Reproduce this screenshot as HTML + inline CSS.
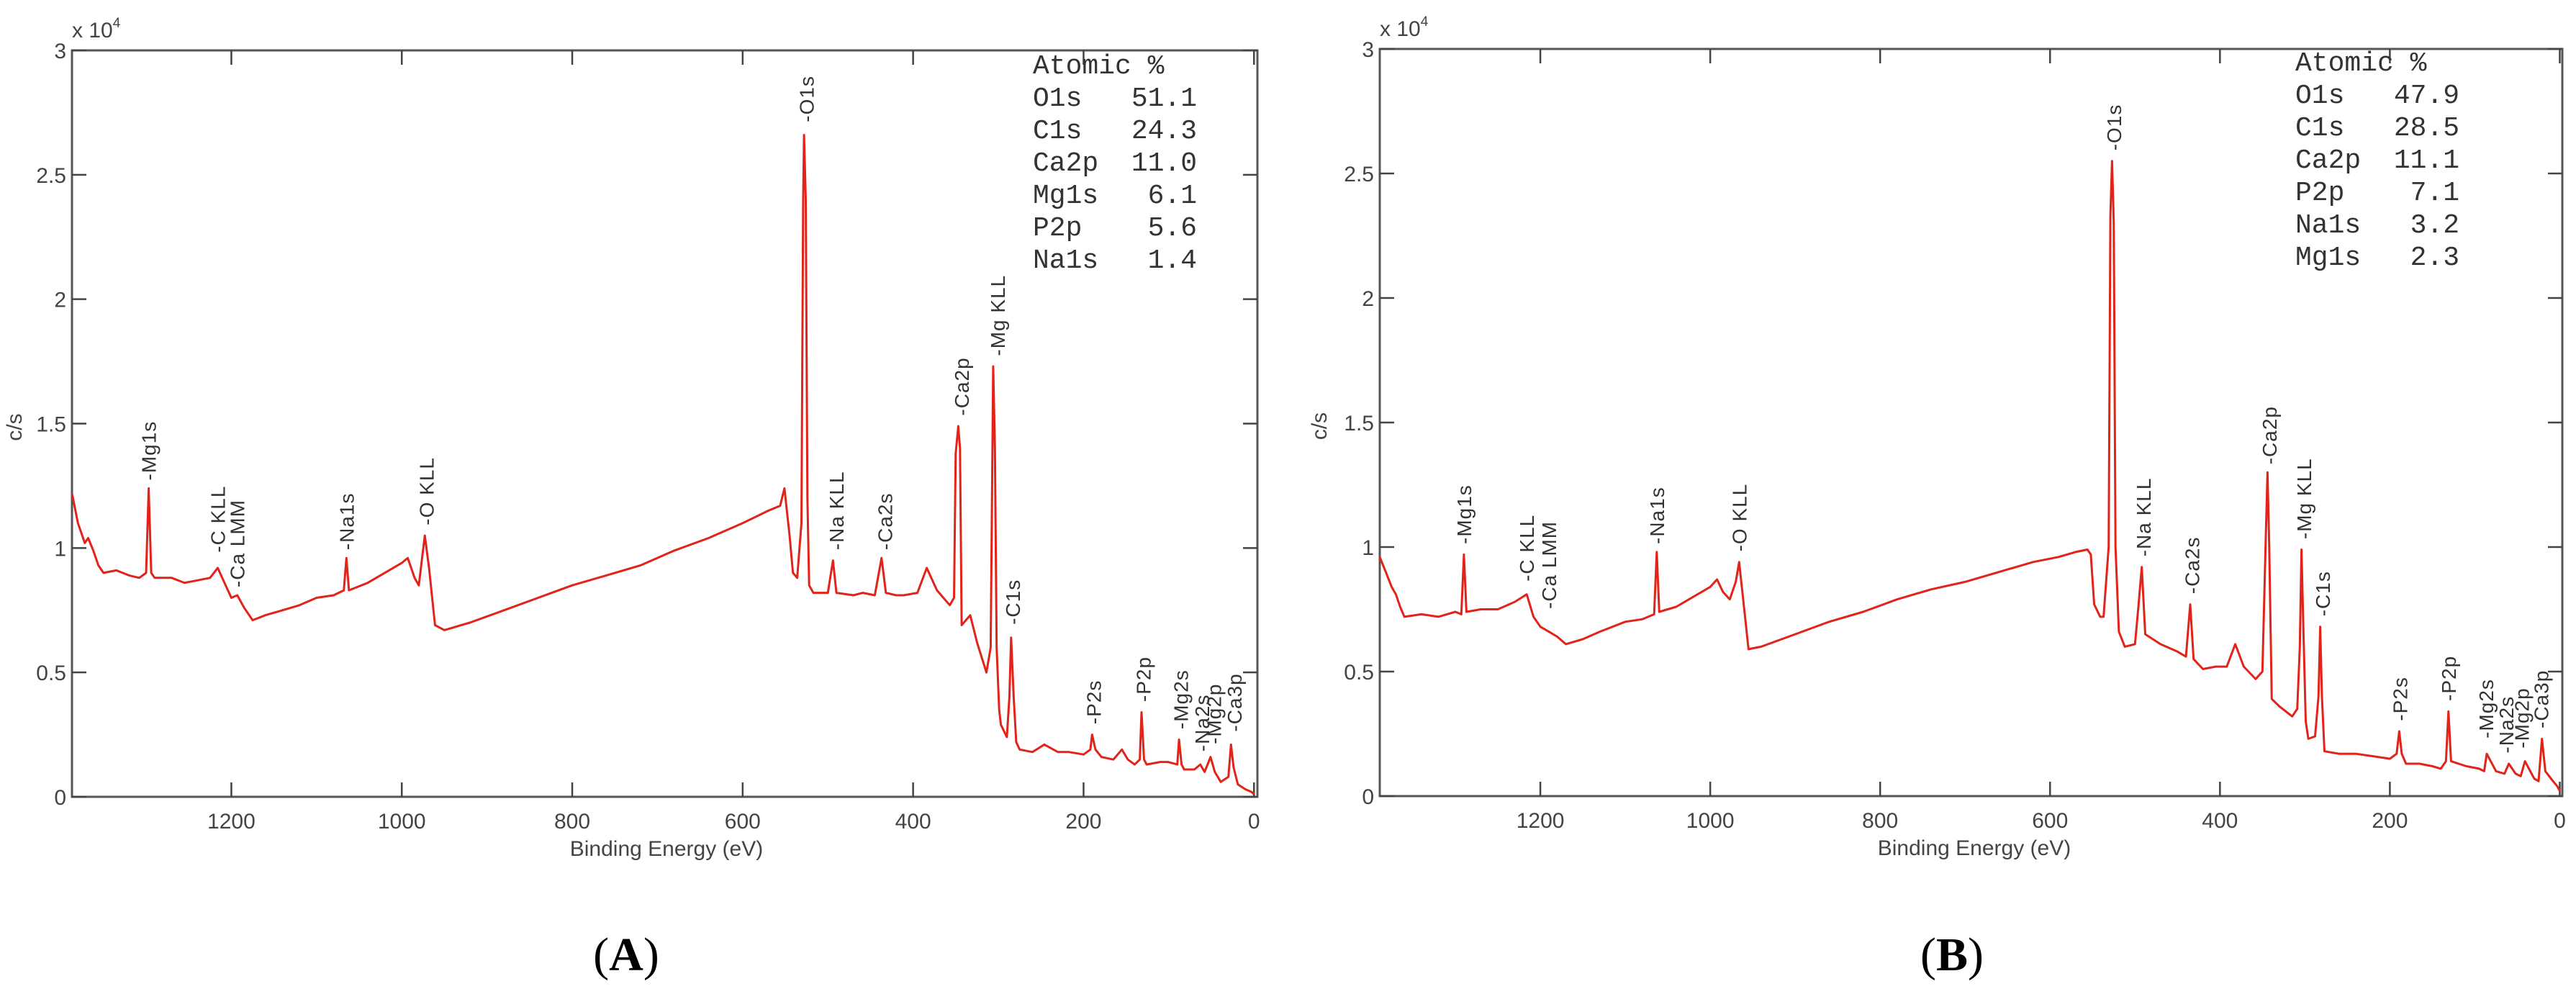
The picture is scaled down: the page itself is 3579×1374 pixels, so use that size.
<!DOCTYPE html>
<html><head><meta charset="utf-8">
<style>
html,body{margin:0;padding:0;background:#fff;}
svg{display:block;font-family:"Liberation Sans",sans-serif;}
.tick{font-size:30px;fill:#444;}
.leg{font-family:"Liberation Mono",monospace;font-size:38px;fill:#333;white-space:pre;}
.pk{font-size:28px;fill:#333;letter-spacing:1px;}
.cap{font-family:"Liberation Serif",serif;font-size:66px;fill:#000;}
</style></head>
<body>
<svg id="fig" width="3579" height="1374" viewBox="0 0 3579 1374" xmlns="http://www.w3.org/2000/svg">
<text class="cap" x="870" y="1348" text-anchor="middle">(<tspan font-weight="bold">A</tspan>)</text>
<text class="cap" x="2712" y="1348" text-anchor="middle">(<tspan font-weight="bold">B</tspan>)</text>
</svg>
<script>
// ---- Panel A data (binding energy eV, counts x1e4) ----
const beA = [1387,1380,1372,1368,1362,1356,1350,1335,1320,1308,1300,1297,1294,1290,1270,1255,1240,1225,1216,1208,1200,1193,1185,1175,1160,1140,1120,1100,1080,1068,1065,1062,1040,1020,1000,993,985,980,973,968,961,950,920,880,840,800,760,720,680,640,600,570,556,551,545,541,536,531,529,528,526,524,522,517,500,494,490,470,459,445,437,432,420,411,395,384,372,357,352,350,347,345,343,333,325,314,309,306,304,302,299,297,290,287,285,282,279,275,260,246,230,217,200,192,190,186,179,165,155,148,140,134,132,129,126,110,101,90,88,85,82,70,63,58,51,46,39,30,27,24,19,10,3,0];
const ctA = [1.22,1.10,1.02,1.04,0.99,0.93,0.90,0.91,0.89,0.88,0.90,1.24,0.90,0.88,0.88,0.86,0.87,0.88,0.92,0.86,0.80,0.81,0.76,0.71,0.73,0.75,0.77,0.80,0.81,0.83,0.96,0.83,0.86,0.90,0.94,0.96,0.88,0.85,1.05,0.92,0.69,0.67,0.70,0.75,0.80,0.85,0.89,0.93,0.99,1.04,1.10,1.15,1.17,1.24,1.05,0.90,0.88,1.10,2.40,2.66,2.40,1.20,0.85,0.82,0.82,0.95,0.82,0.81,0.82,0.81,0.96,0.82,0.81,0.81,0.82,0.92,0.83,0.77,0.80,1.38,1.49,1.40,0.69,0.73,0.62,0.50,0.60,1.73,1.40,0.60,0.35,0.29,0.24,0.40,0.64,0.40,0.22,0.19,0.18,0.21,0.18,0.18,0.17,0.19,0.25,0.19,0.16,0.15,0.19,0.15,0.13,0.15,0.34,0.15,0.13,0.14,0.14,0.13,0.23,0.13,0.11,0.11,0.13,0.10,0.16,0.10,0.06,0.08,0.21,0.12,0.05,0.03,0.02,0.01];
const labA = ["Mg1s","C KLL","Ca LMM","Na1s","O KLL","O1s","Na KLL","Ca2s","Ca2p","Mg KLL","C1s","P2s","P2p","Mg2s","Na2s","Mg2p","Ca3p"];
const labBeA = [1297,1216,1193,1065,971,525,490,433,343,301,283,188,130,86,61,47,23];
const labYA = [1.26,0.97,0.83,0.98,1.08,2.70,0.98,0.98,1.52,1.76,0.68,0.28,0.37,0.26,0.17,0.20,0.25];
const legNameA = ["O1s","C1s","Ca2p","Mg1s","P2p","Na1s"];
const legValA = ["51.1","24.3","11.0","6.1","5.6","1.4"];

// ---- Panel B data ----
const beB = [1389,1382,1375,1370,1365,1360,1340,1320,1300,1293,1290,1287,1270,1250,1230,1216,1208,1200,1190,1180,1170,1150,1130,1100,1080,1066,1063,1060,1040,1020,1000,992,985,977,970,966,960,955,940,900,860,820,780,740,700,660,620,590,570,556,552,548,541,537,531,529,527,525,523,519,512,500,496,492,488,470,450,440,435,431,420,405,392,382,372,358,350,346,344,342,339,330,315,309,306,304,302,299,296,288,284,282,280,277,260,240,220,200,192,189,186,181,165,150,140,134,131,128,110,95,89,86,75,65,60,52,46,41,30,25,21,17,8,3,0];
const ctB = [0.96,0.90,0.84,0.81,0.76,0.72,0.73,0.72,0.74,0.73,0.97,0.74,0.75,0.75,0.78,0.81,0.72,0.68,0.66,0.64,0.61,0.63,0.66,0.70,0.71,0.73,0.98,0.74,0.76,0.80,0.84,0.87,0.82,0.79,0.86,0.94,0.75,0.59,0.60,0.65,0.70,0.74,0.79,0.83,0.86,0.90,0.94,0.96,0.98,0.99,0.97,0.77,0.72,0.72,1.00,2.33,2.55,2.30,1.00,0.66,0.60,0.61,0.76,0.92,0.65,0.61,0.58,0.56,0.77,0.55,0.51,0.52,0.52,0.61,0.52,0.47,0.50,1.05,1.30,1.00,0.39,0.36,0.32,0.35,0.60,0.99,0.70,0.30,0.23,0.24,0.40,0.68,0.40,0.18,0.17,0.17,0.16,0.15,0.17,0.26,0.17,0.13,0.13,0.12,0.11,0.14,0.34,0.14,0.12,0.11,0.10,0.17,0.10,0.09,0.13,0.09,0.08,0.14,0.07,0.06,0.23,0.10,0.06,0.04,0.02,0.01];
const labB = ["Mg1s","C KLL","Ca LMM","Na1s","O KLL","O1s","Na KLL","Ca2s","Ca2p","Mg KLL","C1s","P2s","P2p","Mg2s","Na2s","Mg2p","Ca3p"];
const labBeB = [1290,1216,1190,1063,966,525,490,433,342,301,279,188,131,87,63,45,22];
const labYB = [1.00,0.85,0.74,1.00,0.97,2.58,0.95,0.80,1.32,1.02,0.71,0.29,0.37,0.22,0.16,0.18,0.26];
const legNameB = ["O1s","C1s","Ca2p","P2p","Na1s","Mg1s"];
const legValB = ["47.9","28.5","11.1","7.1","3.2","2.3"];

const xTicks = [1200,1000,800,600,400,200,0];
const yTicks = [0,0.5,1,1.5,2,2.5,3];
const yTickLabels = ["0","0.5","1","1.5","2","2.5","3"];

const NS = "http://www.w3.org/2000/svg";
const svg = document.getElementById('fig');
function mk(tag, attrs, parent){
  const e = document.createElementNS(NS, tag);
  for (const k in attrs) e.setAttribute(k, attrs[k]);
  (parent||svg).appendChild(e);
  return e;
}

function panel(id, L, R, T, B, eMax, eMin, be, ct, labs, labBe, labY, legN, legV, legX, legY, titleX, csX){
  const g = mk('g', {});
  
  
  const xs = e => L + (eMax - e) / (eMax - eMin) * (R - L);
  const ys = v => B - v / 3 * (B - T);
  const frame = mk('rect', {x:L, y:T, width:R-L, height:B-T, fill:'none', stroke:'#555', 'stroke-width':3}, g);
  
  
  xTicks.forEach(t => {
    const x = xs(t);
    mk('line', {x1:x, x2:x, y1:B, y2:B-20, stroke:'#444', 'stroke-width':2.5}, g);
    mk('line', {x1:x, x2:x, y1:T, y2:T+20, stroke:'#444', 'stroke-width':2.5}, g);
    const tl = mk('text', {x:x, y:B+44, 'text-anchor':'middle', class:'tick'}, g);
    
    
    tl.textContent = String(t);
  });
  yTicks.forEach((t, i) => {
    const y = ys(t);
    mk('line', {x1:L, x2:L+20, y1:y, y2:y, stroke:'#444', 'stroke-width':2.5}, g);
    mk('line', {x1:R, x2:R-20, y1:y, y2:y, stroke:'#444', 'stroke-width':2.5}, g);
    const tl = mk('text', {x:L-8, y:y+11, 'text-anchor':'end', class:'tick'}, g);
    
    
    tl.textContent = yTickLabels[i];
  });
  const ex = mk('text', {x:L, y:T-18, class:'tick', 'font-size':'28'}, g);
  
  
  ex.innerHTML = 'x 10<tspan dy="-14" font-size="19">4</tspan>';
  const xt = mk('text', {x:titleX, y:B+82, 'text-anchor':'middle', class:'tick', 'font-size':'29'}, g);
  
  
  xt.textContent = 'Binding Energy (eV)';
  const yt = mk('text', {x:0, y:0, 'text-anchor':'middle', class:'tick', 'font-size':'29', transform:'translate('+csX+','+((T+B)/2+5)+') rotate(-90)'}, g);
  
  
  yt.textContent = 'c/s';
  let d = '';
  be.forEach((e, i) => { d += (i ? 'L' : 'M') + xs(e).toFixed(1) + ' ' + ys(ct[i]).toFixed(1); });
  const line = mk('path', {d:d, fill:'none', stroke:'#e2231a', 'stroke-width':3, 'stroke-linejoin':'round'}, g);
  
  
  labs.forEach((s, i) => {
    const x = xs(labBe[i]) + 10, y = ys(labY[i]) - 4;
    const t = mk('text', {x:0, y:0, class:'pk', transform:'translate('+x.toFixed(1)+','+y.toFixed(1)+') rotate(-90)'}, g);
    
    
    t.textContent = '-' + s;
  });
  const lg = mk('g', {}, g);
  
  
  const h = mk('text', {x:legX, y:legY, class:'leg'}, lg);
  
  
  h.textContent = 'Atomic %';
  legN.forEach((n, i) => {
    const row = (n + '      ').slice(0, 6) + legV[i].padStart(4, ' ');
    const t = mk('text', {x:legX, y:legY + 45*(i+1), class:'leg'}, lg);
    
    
    t.textContent = row;
  });
}

panel('a', 100, 1747, 70, 1107, 1387, -4, beA, ctA, labA, labBeA, labYA, legNameA, legValA, 1435, 102, 926, 30);
panel('b', 1917, 3560, 68, 1106, 1389, -3, beB, ctB, labB, labBeB, labYB, legNameB, legValB, 3189, 98, 2743, 1843);
</script>
</body></html>
